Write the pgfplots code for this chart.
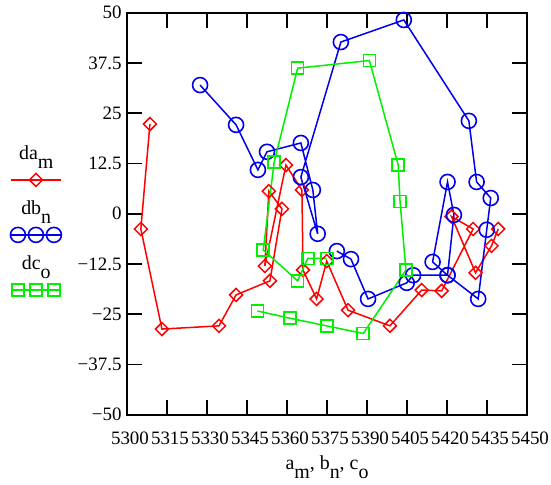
\documentclass[border=0pt]{standalone}
\usepackage{pgfplots}
\pgfplotsset{compat=1.18}
\usepackage{fontspec}
\setmainfont{Liberation Serif}
\newcommand{\sub}[1]{\raisebox{-0.45em}{#1}}
\definecolor{mcred}{RGB}{255,0,0}
\definecolor{mcblue}{RGB}{0,0,235}
\definecolor{mcgreen}{RGB}{0,240,0}
\pgfplotsset{
  legone/.style={legend image code/.code={
    \path[draw=none] (0bp,14bp) -- (0bp,-40bp);
    \draw[##1, mark=none] (0bp,-27bp) -- (50bp,-27bp);
    \path[##1, only marks] plot coordinates {(25bp,-27bp)};
  }},
  legthree/.style={legend image code/.code={
    \path[draw=none] (0bp,14bp) -- (0bp,-40bp);
    \draw[##1, mark=none] (0bp,-27bp) -- (50bp,-27bp);
    \path[##1, only marks] plot coordinates {(7bp,-27bp) (25bp,-27bp) (43bp,-27bp)};
  }},
}
\begin{document}
\begin{tikzpicture}
\path[use as bounding box] (-127bp,-70bp) rectangle (424bp,414.7bp);
\begin{axis}[
  at={(0,0)}, anchor=south west,
  scale only axis, width=400bp, height=402bp,
  xmin=5300, xmax=5450, ymin=-50, ymax=50,
  xtick={5300,5315,5330,5345,5360,5375,5390,5405,5420,5435,5450},
  xticklabels={5300,5315,5330,5345,5360,5375,5390,5405,5420,5435,5450},
  ytick={-50,-37.5,-25,-12.5,0,12.5,25,37.5,50},
  yticklabels={−50,−37.5,−25,−12.5,0,12.5,25,37.5,50},
  tick align=inside, tick pos=both, major tick length=15bp,
  axis line style={line width=1.8bp},
  every tick/.style={black, line width=1.6bp},
  ticklabel style={font=\fontsize{19}{21}\selectfont},
  xticklabel style={anchor=base, yshift=-30bp, xshift=3bp, inner sep=0pt},
  yticklabel style={anchor=east, xshift=-2bp},
  xlabel={a\sub{m}, b\sub{n}, c\sub{o}},
  xlabel style={at={(axis description cs:0.5,0)}, anchor=base, yshift=-55bp, font=\fontsize{20}{22}\selectfont},
  clip=false,
  legend style={at={(axis description cs:-0.2925,0.6866)}, anchor=north west,
    draw=none, fill=none, inner sep=0pt, row sep=1bp, column sep=0pt,
    font=\fontsize{20}{22}\selectfont,
    nodes={inner xsep=0pt}},
  legend cell align=left,
]
\addplot[color=mcred, line width=1.5bp, mark=square, mark size=4.6bp,
  mark options={rotate=45, line width=1.5bp, fill=none}, legone] coordinates {
(5308.6,22.3) (5305.2,-3.8) (5313.1,-28.7) (5334.5,-27.9) (5340.9,-20.2)
(5353.6,-16.7) (5358.1,1.2) (5353.2,5.6) (5351.7,-13.0) (5359.6,12.1)
(5365.6,5.9) (5366.0,-14.0) (5371.1,-21.2) (5374.9,-11.8) (5382.9,-24.0)
(5398.6,-27.9) (5410.5,-19.0) (5418.0,-19.2) (5429.8,-3.8) (5421.7,-0.7)
(5430.7,-14.7) (5436.7,-8.0) (5439.2,-3.8)
};
\addlegendentry{\hspace*{-52bp}da\sub{m}}
\addplot[color=mcblue, line width=1.5bp, mark=o, mark size=7.5bp,
  mark options={line width=1.6bp}, legthree] coordinates {
(5327.4,32.0) (5340.9,22.1) (5349.1,10.9) (5352.5,15.4) (5365.2,17.6)
(5369.7,5.9) (5371.5,-5.0) (5365.2,9.1) (5380.2,42.7) (5403.8,48.2)
(5428.2,23.1) (5431.1,7.9) (5436.4,3.9) (5434.9,-4.0) (5431.7,-21.2)
(5420.2,-15.3) (5422.6,-0.3) (5420.2,7.9) (5414.6,-12.0) (5420.2,-15.3)
(5407.3,-15.3) (5404.9,-17.2) (5390.4,-21.2) (5384.0,-11.3) (5378.7,-9.3)
};
\addlegendentry{\hspace*{-52bp}db\sub{n}}
\addplot[color=mcgreen, line width=1.5bp, mark=square, mark size=6bp,
  mark options={line width=1.6bp}, legthree] coordinates {
(5348.9,-24.2) (5361.1,-26.0) (5374.9,-27.9) (5388.6,-29.8) (5404.6,-14.0)
(5402.4,3.0) (5401.7,12.1) (5390.9,38.1) (5364.0,36.2) (5355.2,12.9)
(5351.1,-9.0) (5364.0,-16.7) (5367.8,-11.1) (5374.9,-11.1)
};
\addlegendentry{\hspace*{-52bp}dc\sub{o}}
\end{axis}
\end{tikzpicture}
\end{document}
